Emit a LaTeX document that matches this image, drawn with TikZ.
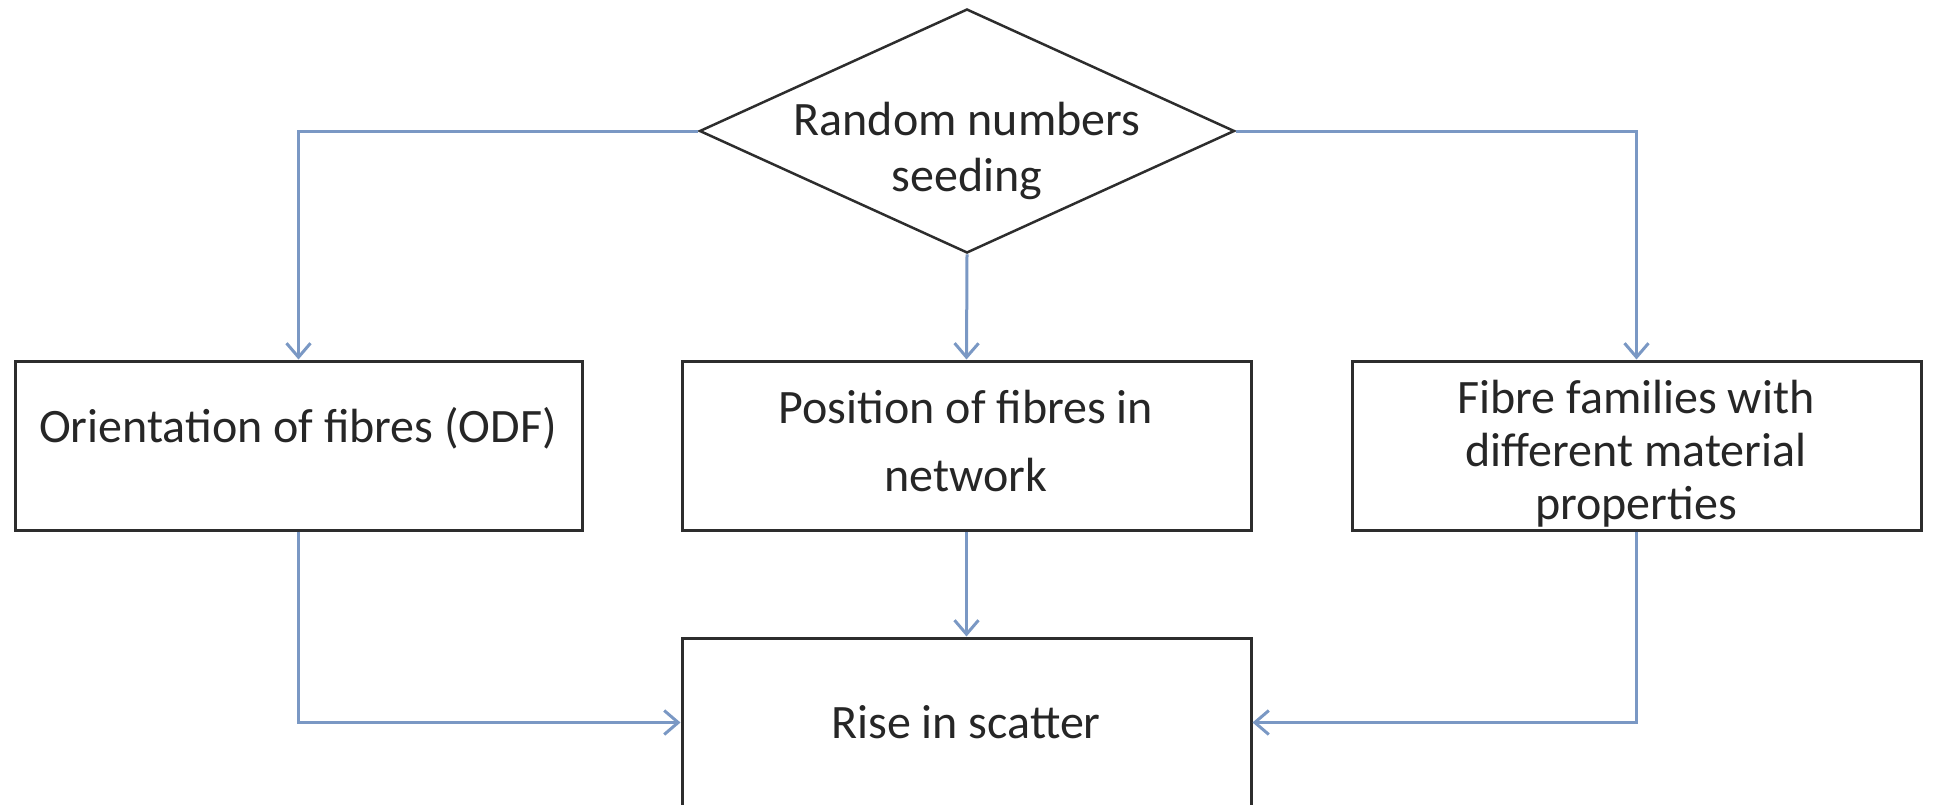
\documentclass[tikz,border=0pt]{standalone}
\usepackage{fontspec}
\setmainfont{Carlito}
\usetikzlibrary{shapes.geometric,arrows.meta}
\definecolor{conncol}{RGB}{122,152,196}
\definecolor{edgecol}{RGB}{45,45,45}
\begin{document}
\begin{tikzpicture}[x=1pt,y=-1pt,
  stepbox/.style={draw=edgecol,line width=3pt,inner sep=0pt,minimum width=569pt,minimum height=169pt},
  decision/.style={diamond,draw=edgecol,line width=2.5pt,inner sep=0pt,minimum width=535pt,minimum height=244pt},
  lbl/.style={align=center,text=black!85,inner sep=0pt},
  conn/.style={draw=conncol,line width=3pt,-{Straight Barb[length=14pt,width=24pt]}}
]
\path[use as bounding box] (0,0) rectangle (1935,804);
\clip (0,0) rectangle (1935,804);

\node[decision] (dia) at (967,131) {};
\node[stepbox,minimum width=567pt] (left) at (298.5,445.5) {};
\node[stepbox] (mid) at (966.5,445.5) {};
\node[stepbox] (right) at (1636.5,445.5) {};
\node[stepbox] (bot) at (966.5,722.5) {};

\node[lbl,font=\fontsize{48}{56}\selectfont] (diatext) at (967,151) {Random numbers\\seeding};
\node[lbl,font=\fontsize{48}{58}\selectfont] (lefttext) at (298,428) {Orientation of fibres (ODF)};
\node[lbl,font=\fontsize{48}{68}\selectfont] (midtext) at (966,441) {Position of fibres in\\network};
\node[lbl,font=\fontsize{48}{53}\selectfont] (righttext) at (1636,454) {Fibre families with\\different material\\properties};
\node[lbl,font=\fontsize{48}{58}\selectfont] (bottext) at (966,722) {Rise in scatter};

\draw[conn] (dia.west) -| (left.north);
\draw[conn] (dia.east) -| (right.north);
\draw[conn] (dia.south) -- (mid.north);
\draw[conn] (mid.south) -- (bot.north);
\draw[conn] (left.south) |- (bot.west);
\draw[conn] (right.south) |- (bot.east);
\end{tikzpicture}
\end{document}
